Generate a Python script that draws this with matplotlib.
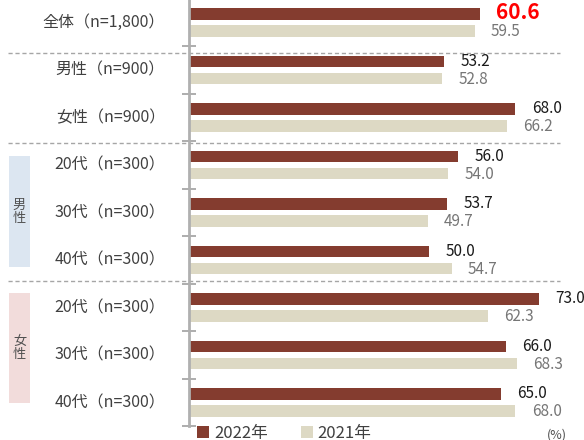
import matplotlib.pyplot as plt
import matplotlib.transforms as mtransforms
from matplotlib.patches import Patch, Rectangle

plt.rcParams['font.family'] = ['Noto Sans CJK JP', 'DejaVu Sans']

# Data
categories = ['全体（n=1,800）', '男性（n=900）', '女性（n=900）',
              '20代（n=300）', '30代（n=300）', '40代（n=300）',
              '20代（n=300）', '30代（n=300）', '40代（n=300）']
y2022 = [60.6, 53.2, 68.0, 56.0, 53.7, 50.0, 73.0, 66.0, 65.0]
y2021 = [59.5, 52.8, 66.2, 54.0, 49.7, 54.7, 62.3, 68.3, 68.0]
series_names = ['2022年', '2021年']
group_labels = ['男\n性', '女\n性']

c_dark = '#843C2F'
c_light = '#DDD9C4'
axis_gray = '#B0B0B0'

W, H = 584, 440
fig = plt.figure(figsize=(W / 100, H / 100), dpi=100)
ax = fig.add_axes([189 / W, 13.75 / H, 393.6 / W, 427.5 / H])

idx = list(range(len(categories)))
bh = 0.25
off = 0.18
ax.barh([i - off for i in idx], y2022, height=bh, color=c_dark, label=series_names[0])
ax.barh([i + off for i in idx], y2021, height=bh, color=c_light, label=series_names[1])

ax.set_xlim(0, 82)
ax.set_ylim(8.5, -0.5)

# value labels
for i, (a, b) in enumerate(zip(y2022, y2021)):
    if i == 0:
        ax.text(a + 3.4, i - off - 0.03, f'{a:.1f}', va='center', ha='left',
                fontsize=15, fontweight='bold', color='#FF0000')
    else:
        ax.text(a + 3.4, i - off, f'{a:.1f}', va='center', ha='left',
                fontsize=11, color='#1A1A1A')
    ax.text(b + 3.4, i + off + 0.02, f'{b:.1f}', va='center', ha='left',
            fontsize=11, color='#767676')

# axis styling
for s in ['top', 'right', 'bottom']:
    ax.spines[s].set_visible(False)
ax.spines['left'].set_color(axis_gray)
ax.spines['left'].set_linewidth(2)
ax.set_xticks([])
ax.set_yticks([i + 0.5 for i in idx])
ax.set_yticklabels([])
ax.tick_params(axis='y', direction='inout', length=10, width=1.2, color='#A0A0A0')

# category labels
trans_lbl = mtransforms.blended_transform_factory(fig.transFigure, ax.transData)
for i, lab in enumerate(categories):
    ax.text(165 / W, i, lab, transform=trans_lbl, ha='right', va='center',
            fontsize=11.5, color='#404040')

# dashed separators
for yy in [0.636, 2.53, 5.44]:
    ax.plot([8 / W, 560 / W], [yy, yy], transform=trans_lbl, clip_on=False,
            color='#A6A6A6', linestyle=(0, (3, 2)), linewidth=1)

# group boxes
box_colors = ['#DCE6F1', '#F2DCDB']
for lab, yc, fc in zip(group_labels, [3.98, 6.85], box_colors):
    ax.add_patch(Rectangle((9 / W, yc - 1.16), 21 / W, 2.32, transform=trans_lbl,
                           facecolor=fc, edgecolor='none', clip_on=False))
    ax.text(19.5 / W, yc, lab, transform=trans_lbl, ha='center', va='center',
            fontsize=9.5, color='#505050', linespacing=1.0)

# legend
handles = [Patch(facecolor=c_dark), Patch(facecolor=c_light)]
fig.legend(handles, series_names, loc='center left', ncol=2, frameon=False,
           bbox_to_anchor=(189 / W, 1 - 433 / H), fontsize=12,
           handlelength=0.7, handleheight=0.7, handletextpad=0.3,
           columnspacing=2.0, borderpad=0, labelcolor='#404040')
fig.text(557 / W, 1 - 435 / H, '(%)', fontsize=9, color='#505050',
         ha='center', va='center')

fig.savefig('out.png', dpi=100)
